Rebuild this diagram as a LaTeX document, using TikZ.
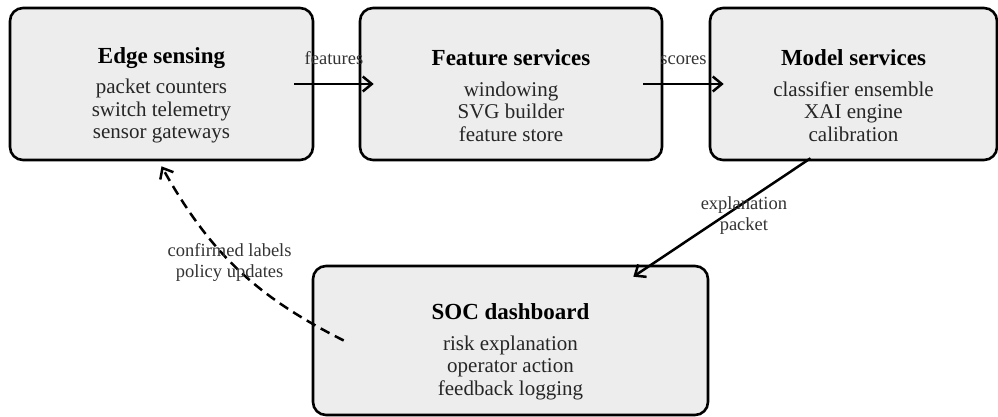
\documentclass[tikz,border=0pt]{standalone}
\usepackage{fontspec}
\setmainfont{Liberation Serif}
\usetikzlibrary{positioning,arrows.meta}
\newcommand{\boxhead}[1]{\rule{0pt}{39pt}{\fontsize{23}{23}\selectfont\bfseries\color{black}#1}}

\begin{document}
\begin{tikzpicture}[x=1pt,y=1pt,
  box/.style={draw=black,line width=2.6pt,fill=black!7,rounded corners=13pt,align=center,
              font=\fontsize{21}{22.5}\selectfont,text=black!85,inner sep=0pt},
  arr/.style={-{Straight Barb[length=9pt,width=15pt]},line width=2.5pt},
  lbl/.style={font=\fontsize{18.5}{21}\selectfont,text=black!80,align=center,inner sep=1pt}]
\useasboundingbox (0,0) rectangle (998,-417);
\node[box,minimum width=303pt,minimum height=152pt] (edge) at (161.5,-84)
  {\boxhead{Edge sensing}\\[8pt]packet counters\\switch telemetry\\sensor gateways};
\node[box,minimum width=302pt,minimum height=152pt] (feat) at (511,-84)
  {\boxhead{Feature services}\\[8pt]windowing\\SVG builder\\feature store};
\node[box,minimum width=287pt,minimum height=152pt] (model) at (853.5,-84)
  {\boxhead{Model services}\\[8pt]classifier ensemble\\XAI engine\\calibration};
\node[box,minimum width=395pt,minimum height=149pt] (soc) at (510.5,-340.5)
  {\boxhead{SOC dashboard}\\[8pt]risk explanation\\operator action\\feedback logging};
\draw[arr] ([xshift=-20pt]edge.east) -- node[lbl,above=17pt]{features} ([xshift=15pt]feat.west);
\draw[arr] ([xshift=-20pt]feat.east) -- node[lbl,above=17pt]{scores} ([xshift=15pt]model.west);
\draw[arr] ([xshift=-43pt,yshift=3pt]model.south) -- node[lbl,xshift=22pt,yshift=2pt]
  {explanation\\packet} ([xshift=-76pt,yshift=-12pt]soc.north east);
\draw[arr,dash pattern=on 10pt off 6pt] ([xshift=32pt]soc.west) to[bend left=17]
  node[lbl,xshift=-8pt,yshift=7pt]{confirmed labels\\policy updates} ([yshift=-5pt]edge.south);
\end{tikzpicture}
\end{document}
